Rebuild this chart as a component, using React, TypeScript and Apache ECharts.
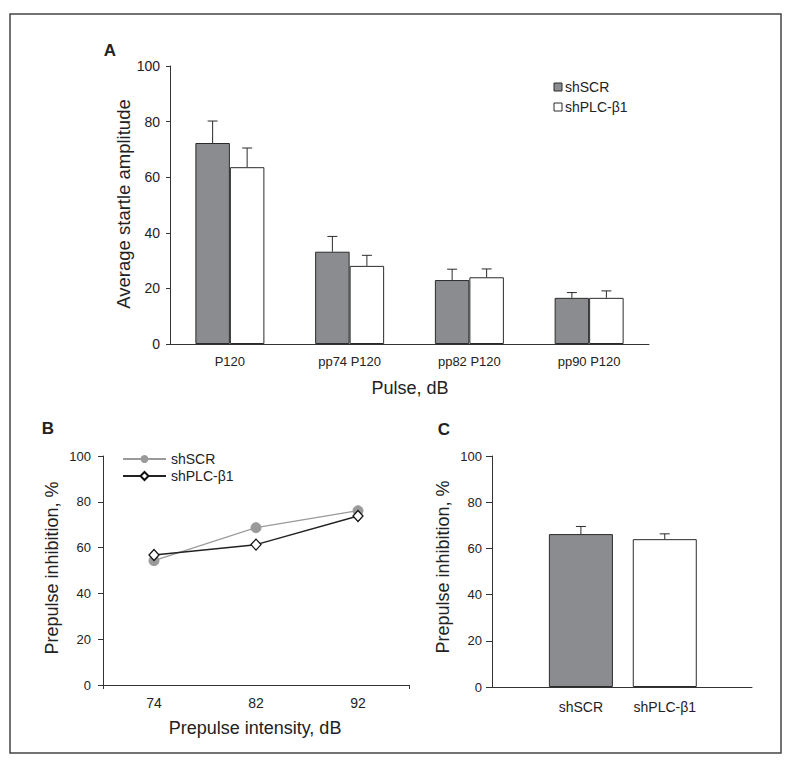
import React, { useEffect, useRef } from "react";
import * as echarts from "echarts";

// ---------- Data ----------
const pulseCategories = ["P120", "pp74 P120", "pp82 P120", "pp90 P120"];
const startleSCR = [72.3, 33.2, 23.0, 16.6];
const startleSCRSem = [7.9, 5.5, 3.9, 1.9];
const startlePLC = [63.6, 28.1, 24.0, 16.6];
const startlePLCSem = [6.9, 3.8, 3.0, 2.5];

const prepulseLevels = ["74", "82", "92"];
const ppiSCR = [54.3, 68.7, 76.1];
const ppiPLC = [56.8, 61.3, 73.8];

const groupNames = ["shSCR", "shPLC-β1"];
const ppiMean = [66.2, 64.0];
const ppiSem = [3.3, 2.3];

const yTicks = [0, 20, 40, 60, 80, 100];

// ---------- Style ----------
const FONT = "'Liberation Sans', Arial, Helvetica, sans-serif";
const DARK = "#8b8c8f";
const EDGE = "#2b2b2b";
const AXIS = "#333";
const TXT = "#222";
const BAR_W_A = 34.5;
const BAR_W_C = 64;

function errRender(offset: number) {
  return (params: any, api: any) => {
    const x = api.value(0);
    const v = api.value(1);
    const top = api.value(2);
    const p0 = api.coord([x, v]);
    const p1 = api.coord([x, top]);
    const cx = p0[0] + offset;
    return {
      type: "group",
      children: [
        { type: "line", shape: { x1: cx, y1: p0[1], x2: cx, y2: p1[1] }, style: { stroke: EDGE, lineWidth: 1 } },
        { type: "line", shape: { x1: cx - 5, y1: p1[1], x2: cx + 5, y2: p1[1] }, style: { stroke: EDGE, lineWidth: 1 } },
      ],
    };
  };
}

function yAxisCfg(gridIndex: number, fontSize: number, margin: number, tickLen: number) {
  return {
    gridIndex,
    type: "value",
    min: yTicks[0],
    max: yTicks[yTicks.length - 1],
    interval: 20,
    axisLine: { show: true, onZero: false, lineStyle: { color: AXIS, width: 1 } },
    axisTick: { show: true, length: tickLen, lineStyle: { color: AXIS } },
    splitLine: { show: false },
    axisLabel: { fontSize, color: TXT, margin, fontFamily: FONT },
  };
}

export default function App() {
  const ref = useRef<HTMLDivElement>(null);

  useEffect(() => {
    if (!ref.current) return;
    const chart = echarts.init(ref.current, undefined, { renderer: "svg" });

    const txt = (text: string, x: number, y: number, size: number, opts: any = {}) => ({
      type: "text",
      x,
      y,
      rotation: opts.rotation || 0,
      style: {
        text,
        fontSize: size,
        fontFamily: FONT,
        fontWeight: opts.bold ? "bold" : "normal",
        fill: TXT,
        align: opts.align || "center",
        verticalAlign: "middle",
      },
    });

    const option: any = {
      animation: false,
      backgroundColor: "#fff",
      grid: [
        { left: 170, top: 66, width: 479, height: 278 },
        { left: 103, top: 456, width: 306, height: 229 },
        { left: 492, top: 456, width: 260, height: 231 },
      ],
      xAxis: [
        {
          gridIndex: 0,
          type: "category",
          data: pulseCategories,
          axisLine: { lineStyle: { color: AXIS } },
          axisTick: { show: false },
          axisLabel: { fontSize: 13, color: TXT, margin: 11, fontFamily: FONT },
        },
        {
          gridIndex: 1,
          type: "category",
          data: prepulseLevels,
          boundaryGap: true,
          axisLine: { lineStyle: { color: AXIS } },
          axisTick: { alignWithLabel: true, length: 4, lineStyle: { color: AXIS } },
          axisLabel: { fontSize: 14, color: TXT, margin: 11, fontFamily: FONT },
        },
        {
          gridIndex: 2,
          type: "value",
          min: -1.06,
          max: 2.04,
          splitLine: { show: false },
          axisTick: { show: false },
          axisLine: { show: true, onZero: false, lineStyle: { color: AXIS } },
          axisLabel: {
            fontSize: 14,
            color: TXT,
            margin: 13,
            fontFamily: FONT,
            customValues: groupNames.map((_, i) => i),
            formatter: (v: number) => {
              const i = Math.round(v);
              return Math.abs(v - i) < 1e-6 && i >= 0 && i < groupNames.length ? groupNames[i] : "";
            },
          },
        },
        {
          gridIndex: 1,
          type: "category",
          position: "bottom",
          data: [""],
          axisLine: { show: false },
          axisLabel: { show: false },
          axisTick: { show: true, length: 4, lineStyle: { color: AXIS } },
        },
      ],
      yAxis: [yAxisCfg(0, 14, 10, 4), yAxisCfg(1, 13, 12, 5), yAxisCfg(2, 13, 10, 6)],
      legend: {
        data: ["shSCR", "shPLC-β1"],
        orient: "vertical",
        left: 122,
        top: 452,
        padding: 0,
        itemWidth: 43,
        itemHeight: 10,
        itemGap: 3,
        selectedMode: false,
        textStyle: { fontSize: 14, color: TXT, fontFamily: FONT, lineHeight: 14 },
      },
      series: [
        {
          name: "shSCR",
          type: "line",
          xAxisIndex: 1,
          yAxisIndex: 1,
          data: ppiSCR,
          symbol: "circle",
          symbolSize: 10,
          lineStyle: { color: "#9a9a9a", width: 1.3 },
          itemStyle: { color: "#9a9a9a", borderColor: "#9a9a9a" },
          z: 3,
        },
        {
          name: "shPLC-β1",
          type: "line",
          xAxisIndex: 1,
          yAxisIndex: 1,
          data: ppiPLC,
          symbol: "diamond",
          symbolSize: [10, 11],
          lineStyle: { color: "#222", width: 1.5 },
          itemStyle: { color: "#fff", borderColor: "#111", borderWidth: 1.3 },
          z: 4,
        },
        {
          name: "A shSCR",
          type: "bar",
          xAxisIndex: 0,
          yAxisIndex: 0,
          data: startleSCR,
          barWidth: BAR_W_A,
          barGap: "0%",
          itemStyle: { color: DARK, borderColor: EDGE, borderWidth: 1 },
        },
        {
          name: "A shPLC",
          type: "bar",
          xAxisIndex: 0,
          yAxisIndex: 0,
          data: startlePLC,
          barWidth: BAR_W_A,
          barGap: "0%",
          itemStyle: { color: "#fff", borderColor: EDGE, borderWidth: 1 },
        },
        {
          type: "custom",
          xAxisIndex: 0,
          yAxisIndex: 0,
          renderItem: errRender(-BAR_W_A / 2),
          data: startleSCR.map((v, i) => [i, v, v + startleSCRSem[i]]),
          z: 5,
        },
        {
          type: "custom",
          xAxisIndex: 0,
          yAxisIndex: 0,
          renderItem: errRender(BAR_W_A / 2),
          data: startlePLC.map((v, i) => [i, v, v + startlePLCSem[i]]),
          z: 5,
        },
        {
          name: "C",
          type: "bar",
          xAxisIndex: 2,
          yAxisIndex: 2,
          barWidth: BAR_W_C,
          data: ppiMean.map((v, i) => ({
            value: [i, v],
            itemStyle: { color: i === 0 ? DARK : "#fff", borderColor: EDGE, borderWidth: 1 },
          })),
        },
        {
          type: "custom",
          xAxisIndex: 2,
          yAxisIndex: 2,
          renderItem: errRender(0),
          data: ppiMean.map((v, i) => [i, v, v + ppiSem[i]]),
          z: 5,
        },
      ],
      graphic: [
        {
          type: "rect",
          shape: { x: 10, y: 14, width: 771, height: 739 },
          style: { fill: "none", stroke: "#444", lineWidth: 1.5 },
          silent: true,
        },
        txt("A", 110, 50, 17, { bold: true }),
        txt("B", 48, 428, 17, { bold: true }),
        txt("C", 444, 429, 17, { bold: true }),
        txt("Average startle amplitude", 123, 204, 18.5, { rotation: Math.PI / 2 }),
        txt("Pulse, dB", 410, 388, 18),
        txt("Prepulse inhibition, %", 52, 568, 18, { rotation: Math.PI / 2 }),
        txt("Prepulse intensity, dB", 255, 728, 18),
        txt("Prepulse inhibition, %", 443, 567, 18, { rotation: Math.PI / 2 }),
        {
          type: "rect",
          shape: { x: 554, y: 83, width: 8, height: 8 },
          style: { fill: DARK, stroke: EDGE, lineWidth: 1 },
        },
        {
          type: "rect",
          shape: { x: 554, y: 103, width: 8, height: 8 },
          style: { fill: "#fff", stroke: EDGE, lineWidth: 1 },
        },
        txt("shSCR", 565, 87, 14, { align: "left" }),
        txt("shPLC-β1", 565, 107, 14, { align: "left" }),
      ],
    };

    chart.setOption(option);
    return () => chart.dispose();
  }, []);

  return (
    <div
      ref={ref}
      style={{ position: "absolute", left: 0, top: 0, width: 794, height: 764, background: "#fff" }}
    />
  );
}
